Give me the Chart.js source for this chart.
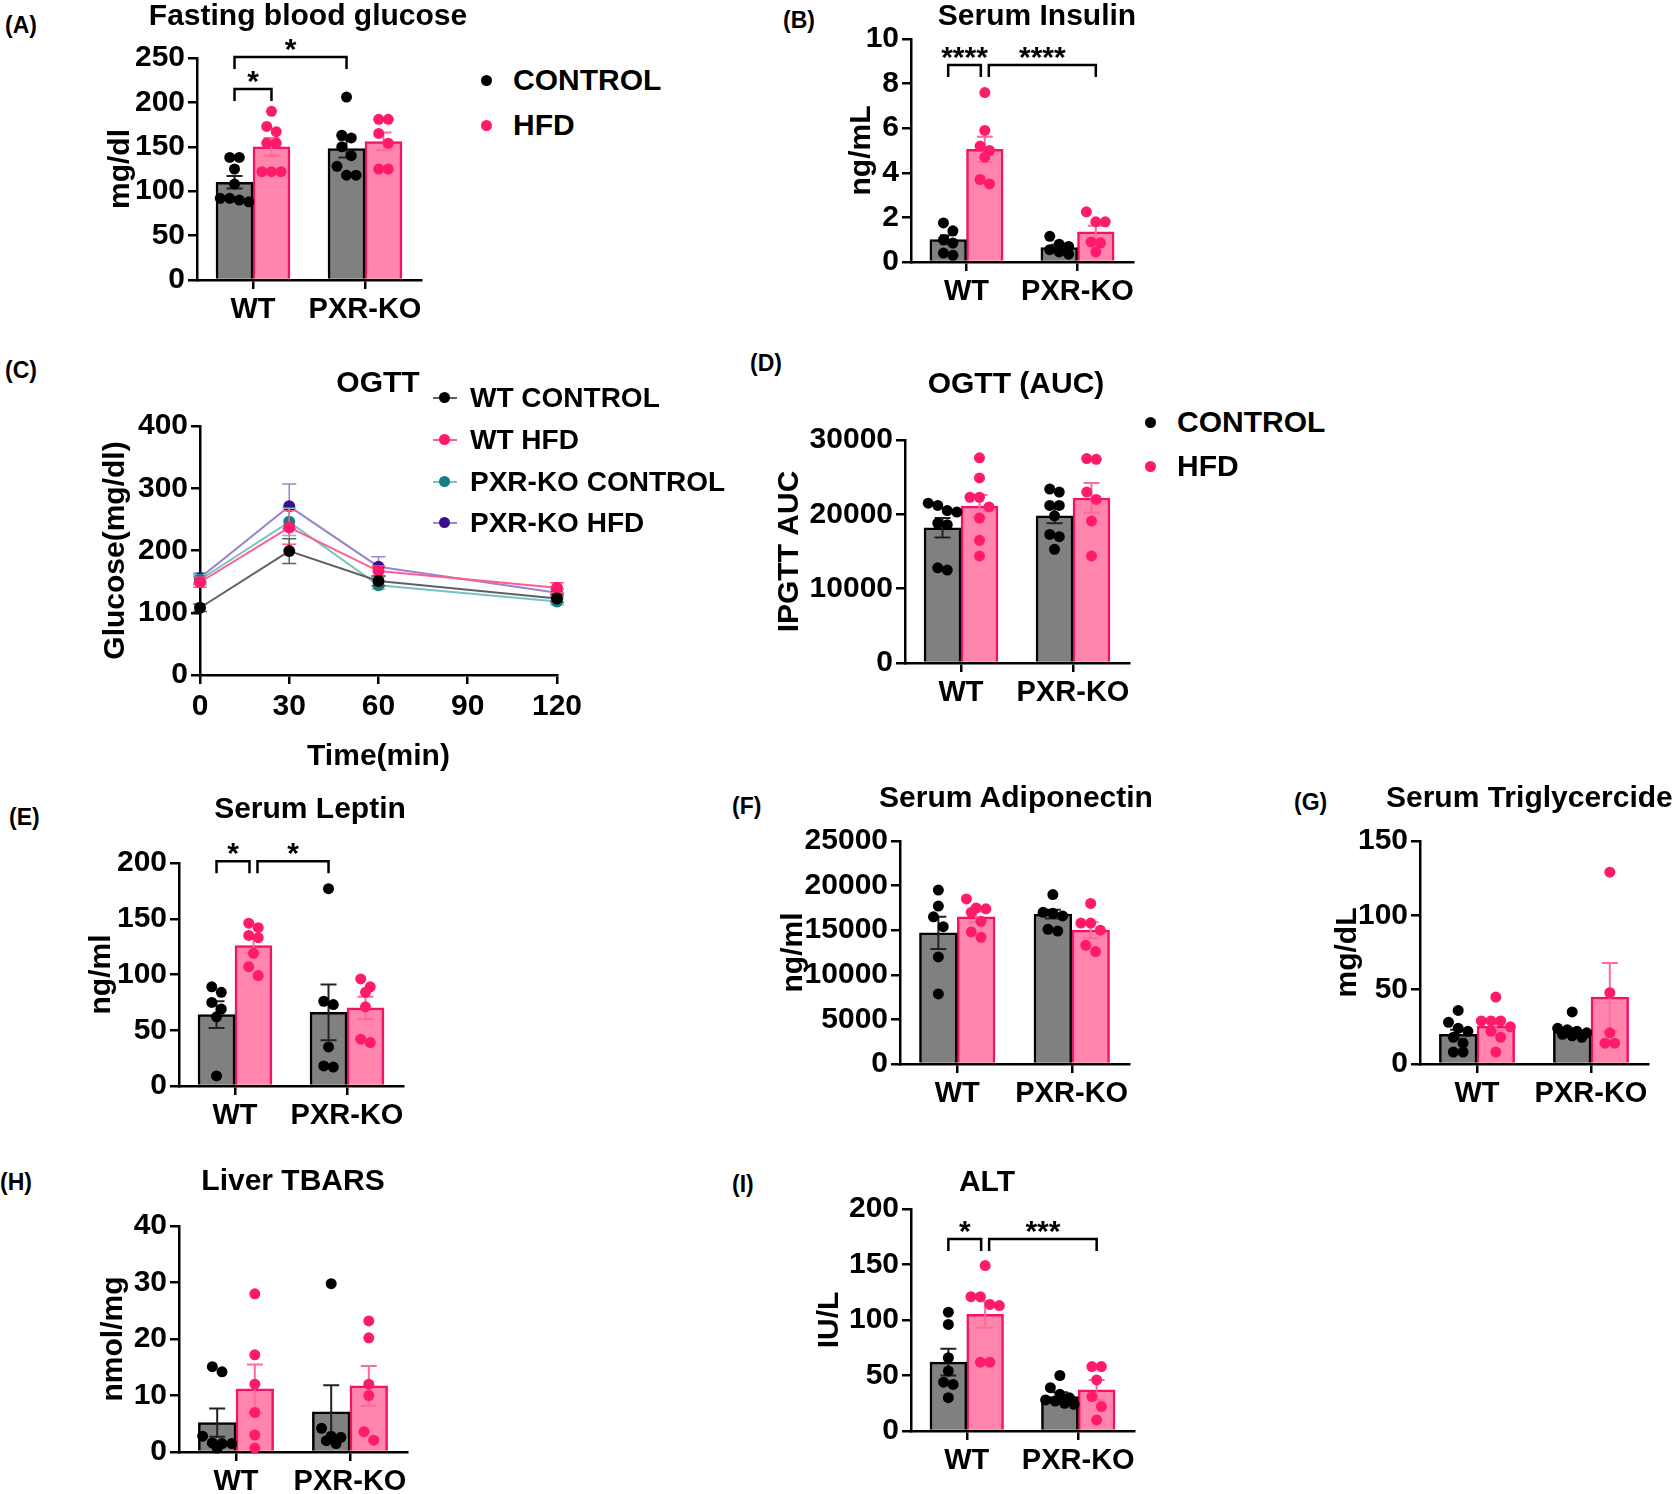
<!DOCTYPE html>
<html>
<head>
<meta charset="utf-8">
<title>PXR-KO HFD panels</title>
<script src="https://cdn.jsdelivr.net/npm/chart.js@4.4.1/dist/chart.umd.min.js"></script>
<style>
  body { margin: 0; background: #fff; }
  #page { position: relative; width: 1680px; height: 1494px; overflow: hidden; font-family: "Liberation Sans", Arial, sans-serif; color: #000; }
  #page canvas { position: absolute; }
  .tag { position: absolute; font-family: "Liberation Sans", Arial, sans-serif; font-weight: bold; font-size: 23px; line-height: 22px; }
  .title { position: absolute; width: 600px; text-align: center; font-weight: bold; font-size: 30px; line-height: 30px; white-space: nowrap; }
  .legend { position: absolute; font-weight: bold; font-size: 30px; line-height: 30px; white-space: nowrap; }
  .legend.small { font-size: 28px; line-height: 28px; }
  .dot { position: absolute; width: 11px; height: 11px; border-radius: 50%; }
  .seg { position: absolute; width: 24px; height: 2px; }
</style>
</head>
<body>
<div id="page">
  <canvas id="cA"></canvas>
  <canvas id="cB"></canvas>
  <canvas id="cC"></canvas>
  <canvas id="cD"></canvas>
  <canvas id="cE"></canvas>
  <canvas id="cF"></canvas>
  <canvas id="cG"></canvas>
  <canvas id="cH"></canvas>
  <canvas id="cI"></canvas>

  <div class="tag" style="left:5px;top:14px">(A)</div>
  <div class="tag" style="left:783px;top:9px">(B)</div>
  <div class="tag" style="left:5px;top:359px">(C)</div>
  <div class="tag" style="left:750px;top:352px">(D)</div>
  <div class="tag" style="left:9px;top:806px">(E)</div>
  <div class="tag" style="left:732px;top:795px">(F)</div>
  <div class="tag" style="left:1294px;top:791px">(G)</div>
  <div class="tag" style="left:0px;top:1171px">(H)</div>
  <div class="tag" style="left:732px;top:1173px">(I)</div>

  <div class="title" style="left:8px;top:0px">Fasting blood glucose</div>
  <div class="title" style="left:737px;top:0px">Serum Insulin</div>
  <div class="title" style="left:78px;top:367px">OGTT</div>
  <div class="title" style="left:716px;top:368px">OGTT (AUC)</div>
  <div class="title" style="left:10px;top:793px">Serum Leptin</div>
  <div class="title" style="left:716px;top:782px">Serum Adiponectin</div>
  <div class="title" style="left:1386px;top:782px;width:auto;text-align:left">Serum Triglycercide</div>
  <div class="title" style="left:-7px;top:1165px">Liver TBARS</div>
  <div class="title" style="left:687px;top:1166px">ALT</div>

  <div class="legend" style="left:513px;top:65px"><span class="dot" style="left:-32px;top:10px;background:#000"></span>CONTROL</div>
  <div class="legend" style="left:513px;top:110px"><span class="dot" style="left:-32px;top:10px;background:#ff1a6c"></span>HFD</div>
  <div class="legend" style="left:1177px;top:407px"><span class="dot" style="left:-32px;top:10px;background:#000"></span>CONTROL</div>
  <div class="legend" style="left:1177px;top:451px"><span class="dot" style="left:-32px;top:10px;background:#ff1a6c"></span>HFD</div>

  <div class="legend small" style="left:470px;top:384px"><span class="seg" style="left:-37px;top:13px;background:#606060"></span><span class="dot" style="left:-31px;top:8px;background:#000"></span>WT CONTROL</div>
  <div class="legend small" style="left:470px;top:426px"><span class="seg" style="left:-37px;top:13px;background:#ff5c8f"></span><span class="dot" style="left:-31px;top:8px;background:#ff1a6c"></span>WT HFD</div>
  <div class="legend small" style="left:470px;top:468px"><span class="seg" style="left:-37px;top:13px;background:#76c3bf"></span><span class="dot" style="left:-31px;top:8px;background:#128080"></span>PXR-KO CONTROL</div>
  <div class="legend small" style="left:470px;top:509px"><span class="seg" style="left:-37px;top:13px;background:#9a84d0"></span><span class="dot" style="left:-31px;top:8px;background:#3a0f8a"></span>PXR-KO HFD</div>
</div>

<script>
Chart.defaults.font.family = '"Liberation Sans", Arial, sans-serif';
Chart.defaults.color = '#000';
Chart.defaults.animation = false;

const groups = ['WT', 'PXR-KO'];
const diets = ['CONTROL', 'HFD'];

// every bar panel: rows are CONTROL, HFD; columns are WT, PXR-KO
// (A) fasting blood glucose, mg/dl
const fbgMean = [[110, 148], [150, 156]];
const fbgSem = [[7, 10], [10, 10]];
const fbgPts = [
  [[138, 138, 125, 108, 92, 90, 92, 88], [206, 163, 160, 150, 140, 128, 118, 118]],
  [[190, 167, 173, 154, 154, 122, 122, 122], [181, 181, 165, 154, 125, 125]]
];
const fbgTicks = [0, 50, 100, 150, 200, 250];
const fbgSig = [[[0, 0], [0, 1], 215, '*'], [[0, 0], [1, 0], 251, '*']];

// (B) serum insulin, ng/mL
const insMean = [[1.0, 0.65], [5.05, 1.35]];
const insSem = [[0.2, 0.12], [0.57, 0.27]];
const insPts = [
  [[1.75, 1.4, 1.0, 0.85, 0.4, 0.3], [1.15, 0.8, 0.7, 0.55, 0.45, 0.35]],
  [[7.6, 5.9, 5.2, 5.0, 4.7, 3.7, 3.5], [2.25, 1.8, 1.8, 0.9, 0.85, 0.45]]
];
const insTicks = [0, 2, 4, 6, 8, 10];
const insSig = [[[0, 0], [0, 1], 8.83, '****'], [[0, 1], [1, 1], 8.83, '****']];

// (C) OGTT time course, glucose mg/dl
const ogttTimes = [0, 30, 60, 120];
const ogttSeries = ['WT CONTROL', 'WT HFD', 'PXR-KO CONTROL', 'PXR-KO HFD'];
const ogttWtCtrl = [108, 199, 151, 123];
const ogttWtHfd = [149, 237, 167, 140];
const ogttKoCtrl = [153, 246, 144, 118];
const ogttKoHfd = [156, 271, 174, 132];
const ogttWtCtrlErr = [6, 20, 8, 6];
const ogttWtHfdErr = [8, 27, 8, 8];
const ogttKoCtrlErr = [8, 22, 6, 5];
const ogttKoHfdErr = [8, 36, 16, 6];
const ogttXTicks = [0, 30, 60, 90, 120];
const ogttYTicks = [0, 100, 200, 300, 400];

// (D) OGTT AUC
const aucMean = [[18200, 19800], [21100, 22200]];
const aucSem = [[1300, 1000], [1500, 2000]];
const aucPts = [
  [[21500, 21200, 20300, 20500, 18800, 18600, 12500, 12800], [23400, 23000, 21200, 21200, 19800, 17300, 17000, 15300]],
  [[27600, 24900, 22300, 22300, 21000, 19500, 16500, 14400], [27400, 27500, 23000, 22000, 19100, 14400]]
];
const aucTicks = [0, 10000, 20000, 30000];

// (E) serum leptin, ng/ml
const lepMean = [[64, 66], [126, 70]];
const lepSem = [[12, 25], [6, 10]];
const lepPts = [
  [[89, 84, 75, 69, 62, 9], [177, 76, 73, 35, 17, 18]],
  [[146, 142, 135, 133, 119, 107, 99], [96, 89, 84, 71, 39, 42]]
];
const lepTicks = [0, 50, 100, 150, 200];
const lepSig = [[[0, 0], [0, 1], 201.6, '*'], [[0, 1], [1, 0], 201.6, '*']];

// (F) serum adiponectin, ng/ml
const adiMean = [[14700, 16800], [16500, 15000]];
const adiSem = [[1800, 500], [600, 900]];
const adiPts = [
  [[19500, 17700, 16500, 15400, 12000, 7850], [19000, 17000, 16900, 16600, 15100, 14900]],
  [[18500, 17500, 17400, 17000, 16000, 14800, 14200], [18000, 15800, 15800, 15000, 13300, 12600]]
];
const adiTicks = [0, 5000, 10000, 15000, 20000, 25000];

// (G) serum triglyceride, mg/dL
const tgMean = [[20, 22.5], [25.5, 45]];
const tgSem = [[3, 1.5], [3, 23]];
const tgPts = [
  [[36, 28, 24, 22, 18, 14, 8, 8], [35, 24, 23, 22, 21, 20, 19, 18]],
  [[45, 29, 29, 29, 25, 22, 18, 8], [129, 48, 21, 14, 14]]
];
const tgTicks = [0, 50, 100, 150];

// (H) liver TBARS, nmol/mg
const tbMean = [[5.2, 7.1], [11.2, 11.7]];
const tbSem = [[2.5, 4.7], [4.3, 3.5]];
const tbPts = [
  [[15.1, 14.2, 2.8, 1.6, 1.5, 1.5, 0.7], [29.8, 4.2, 2.8, 2.6, 2, 1.5]],
  [[28, 17.2, 12, 7, 3, 0.7], [23.2, 20.2, 12, 10, 3.6, 2.1]]
];
const tbTicks = [0, 10, 20, 30, 40];

// (I) ALT, IU/L
const altMean = [[62, 31], [105, 37]];
const altSem = [[12, 4], [12, 9]];
const altPts = [
  [[107, 96, 66, 54, 44, 42, 30], [50, 39, 33, 30, 28, 27, 25, 24]],
  [[149, 121, 121, 114, 113, 62, 62], [58, 58, 46, 31, 22, 10]]
];
const altTicks = [0, 50, 100, 150, 200];
const altSig = [[[0, 0], [0, 1], 173, '*'], [[0, 1], [1, 1], 173, '***']];

// ---- look ----
const barFill = ['#808080', '#ff85ad'];
const barEdge = ['#000000', '#f5106a'];
const dotFill = ['#000000', '#ff1a6c'];
const errColor = ['#222222', '#ff6a9c'];
const barW = 0.33;                        // bar width in group units
const barShift = [-barW / 2, barW / 2];   // bar centre relative to group centre
const axisFont = {size: 30, weight: 'bold'};
const groupFont = {size: 29, weight: 'bold'};
const labelFont = {size: 30, weight: 'bold'};

// plot areas on the page: y axis x, right end, top tick, zero line, y-title centre
const boxes = {
  A: {L: 197, R: 421, T: 58, B: 280, ylx: 121},
  B: {L: 911, R: 1133, T: 39, B: 262, ylx: 862},
  C: {L: 200, R: 557, T: 426, B: 675, ylx: 116},
  D: {L: 905, R: 1129, T: 440, B: 663, ylx: 790},
  E: {L: 179, R: 403, T: 863, B: 1086, ylx: 102},
  F: {L: 900, R: 1129, T: 841, B: 1064, ylx: 794},
  G: {L: 1420, R: 1648, T: 841, B: 1064, ylx: 1348},
  H: {L: 179, R: 407, T: 1226, B: 1452, ylx: 114},
  I: {L: 911, R: 1134, T: 1209, B: 1431, ylx: 830}
};

// error bars (mean +/- sem) drawn from dataset.errors
const errorBars = {
  id: 'errorBars',
  draw(chart, args) {
    const ds = chart.data.datasets[args.index];
    if (!ds.errors) return;
    const ctx = chart.ctx, y = chart.scales.y;
    ctx.save();
    ctx.strokeStyle = ds.errorColor;
    ctx.lineWidth = ds.errorWidth || 2;
    const cap = ds.errorCap || 8;
    args.meta.data.forEach((el, i) => {
      const raw = ds.data[i];
      const v = typeof raw === 'object' ? raw.y : raw;
      const e = ds.errors[i];
      const top = y.getPixelForValue(v + e), bot = y.getPixelForValue(v - e);
      ctx.beginPath();
      ctx.moveTo(el.x, bot); ctx.lineTo(el.x, top);
      ctx.moveTo(el.x - cap, top); ctx.lineTo(el.x + cap, top);
      ctx.moveTo(el.x - cap, bot); ctx.lineTo(el.x + cap, bot);
      ctx.stroke();
    });
    ctx.restore();
  },
  beforeDatasetDraw(chart, args) { if (args.meta.type === 'line') this.draw(chart, args); },
  afterDatasetDraw(chart, args) { if (args.meta.type === 'bar') this.draw(chart, args); }
};

// significance brackets between two bars: [[group, diet], [group, diet], y value, stars]
const brackets = {
  id: 'brackets',
  afterDraw(chart, args, opts) {
    const items = opts.items || [];
    if (!items.length) return;
    const ctx = chart.ctx, x = chart.scales.x, y = chart.scales.y;
    const px = b => x.getPixelForValue(b[0] + barShift[b[1]]);
    const same = (a, b) => a[0] === b[0] && a[1] === b[1];
    ctx.save();
    ctx.strokeStyle = '#000';
    ctx.fillStyle = '#000';
    ctx.lineWidth = 2.5;
    ctx.font = 'bold 30px "Liberation Sans", Arial, sans-serif';
    ctx.textAlign = 'center';
    ctx.textBaseline = 'alphabetic';
    items.forEach(it => {
      const shared = p => items.some(o => o !== it && o[2] === it[2] && (same(o[0], p) || same(o[1], p)));
      let x1 = px(it[0]), x2 = px(it[1]);
      if (shared(it[0])) x1 += 4;
      if (shared(it[1])) x2 -= 4;
      const yy = y.getPixelForValue(it[2]);
      ctx.beginPath();
      ctx.moveTo(x1, yy + 12); ctx.lineTo(x1, yy); ctx.lineTo(x2, yy); ctx.lineTo(x2, yy + 12);
      ctx.stroke();
      ctx.fillText(it[3], (x1 + x2) / 2, yy + 2);
    });
    ctx.restore();
  }
};
Chart.register(errorBars, brackets);

// spread overlapping dots sideways in rows (layout only, values untouched)
function spread(values, centre, yMax) {
  const thr = yMax * 0.045;
  const sorted = values.slice().sort((a, b) => b - a);
  const out = [];
  let row = [];
  const flush = () => {
    row.forEach((v, j) => out.push({x: centre + (j - (row.length - 1) / 2) * 0.085, y: v}));
    row = [];
  };
  sorted.forEach(v => {
    if (row.length && (row[0] - v > thr || row.length >= 4)) flush();
    row.push(v);
  });
  flush();
  return out;
}

function placeCanvas(id, box, xh) {
  const cv = document.getElementById(id);
  const left = box.ylx - 18, top = box.T - 50;
  const w = box.R + 30 - left, h = 50 + (box.B - box.T) + xh;
  cv.width = w; cv.height = h;
  cv.style.left = left + 'px'; cv.style.top = top + 'px';
  cv.style.width = w + 'px'; cv.style.height = h + 'px';
  return {cv, yw: box.L - left, xh};
}

function axisLines() {
  return {
    offset: false,
    grid: {display: true, drawOnChartArea: false, drawTicks: true, tickLength: 9, color: '#000', lineWidth: 2.5, offset: false},
    border: {display: true, color: '#000', width: 2.5}
  };
}

function yAxis(ticks, title, yw) {
  return Object.assign(axisLines(), {
    min: ticks[0], max: ticks[ticks.length - 1],
    ticks: {stepSize: ticks[1] - ticks[0], font: axisFont, padding: 3, callback: v => v},
    title: {display: true, text: title, font: labelFont, padding: 0},
    afterFit: s => { s.width = yw; }
  });
}

function barPanel(id, box, mean, sem, pts, ticks, title, sig) {
  const {cv, yw, xh} = placeCanvas(id, box, 62);
  const yMax = ticks[ticks.length - 1];
  const thick = barW * (box.R - box.L) / groups.length;
  const datasets = [];
  diets.forEach((d, s) => {
    datasets.push({
      type: 'bar', label: d, grouped: false,
      data: groups.map((g, i) => ({x: i + barShift[s], y: mean[s][i]})),
      errors: sem[s], errorColor: errColor[s],
      backgroundColor: barFill[s], borderColor: barEdge[s], borderWidth: 2.5,
      barThickness: thick, order: 2
    });
  });
  diets.forEach((d, s) => {
    datasets.push({
      type: 'scatter', label: d + ' animals', grouped: false,
      data: groups.flatMap((g, i) => spread(pts[s][i], i + barShift[s], yMax)),
      backgroundColor: dotFill[s], borderWidth: 0, pointRadius: 5.5, order: 1, clip: false
    });
  });
  new Chart(cv, {
    type: 'bar',
    data: {datasets},
    options: {
      responsive: false,
      layout: {padding: {top: 50, right: 30, left: 0, bottom: 0}},
      plugins: {legend: {display: false}, tooltip: {enabled: false}, brackets: {items: sig || []}},
      scales: {
        x: Object.assign(axisLines(), {
          type: 'linear', min: -0.5, max: groups.length - 0.5,
          afterBuildTicks: s => { s.ticks = groups.map((g, i) => ({value: i})); },
          ticks: {font: groupFont, padding: 4, maxRotation: 0, minRotation: 0, autoSkip: false, callback: v => groups[v]},
          afterFit: s => { s.height = xh; }
        }),
        y: yAxis(ticks, title, yw)
      }
    }
  });
}

barPanel('cA', boxes.A, fbgMean, fbgSem, fbgPts, fbgTicks, 'mg/dl', fbgSig);
barPanel('cB', boxes.B, insMean, insSem, insPts, insTicks, 'ng/mL', insSig);
barPanel('cD', boxes.D, aucMean, aucSem, aucPts, aucTicks, 'IPGTT AUC');
barPanel('cE', boxes.E, lepMean, lepSem, lepPts, lepTicks, 'ng/ml', lepSig);
barPanel('cF', boxes.F, adiMean, adiSem, adiPts, adiTicks, 'ng/ml');
barPanel('cG', boxes.G, tgMean, tgSem, tgPts, tgTicks, 'mg/dL');
barPanel('cH', boxes.H, tbMean, tbSem, tbPts, tbTicks, 'nmol/mg');
barPanel('cI', boxes.I, altMean, altSem, altPts, altTicks, 'IU/L', altSig);

// (C) OGTT line chart
(function () {
  const {cv, yw, xh} = placeCanvas('cC', boxes.C, 100);
  const vals = [ogttWtCtrl, ogttWtHfd, ogttKoCtrl, ogttKoHfd];
  const errs = [ogttWtCtrlErr, ogttWtHfdErr, ogttKoCtrlErr, ogttKoHfdErr];
  const lineCol = ['#606060', '#ff5c8f', '#76c3bf', '#9a84d0'];
  const ptCol = ['#000000', '#ff1a6c', '#128080', '#3a0f8a'];
  const datasets = ogttSeries.map((name, k) => ({
    label: name,
    data: ogttTimes.map((t, i) => ({x: t, y: vals[k][i]})),
    errors: errs[k], errorColor: lineCol[k], errorWidth: 1.5, errorCap: 7,
    borderColor: lineCol[k], borderWidth: 2, backgroundColor: ptCol[k],
    pointBackgroundColor: ptCol[k], pointBorderWidth: 0, pointRadius: 6,
    tension: 0, clip: false
  }));
  new Chart(cv, {
    type: 'line',
    data: {datasets},
    options: {
      responsive: false,
      layout: {padding: {top: 50, right: 30, left: 0, bottom: 0}},
      plugins: {legend: {display: false}, tooltip: {enabled: false}},
      scales: {
        x: Object.assign(axisLines(), {
          type: 'linear', min: ogttXTicks[0], max: ogttXTicks[ogttXTicks.length - 1],
          ticks: {stepSize: ogttXTicks[1] - ogttXTicks[0], font: axisFont, padding: 5},
          title: {display: true, text: 'Time(min)', font: labelFont, padding: 0},
          afterFit: s => { s.height = xh; }
        }),
        y: yAxis(ogttYTicks, 'Glucose(mg/dl)', yw)
      }
    }
  });
})();
</script>
</body>
</html>
